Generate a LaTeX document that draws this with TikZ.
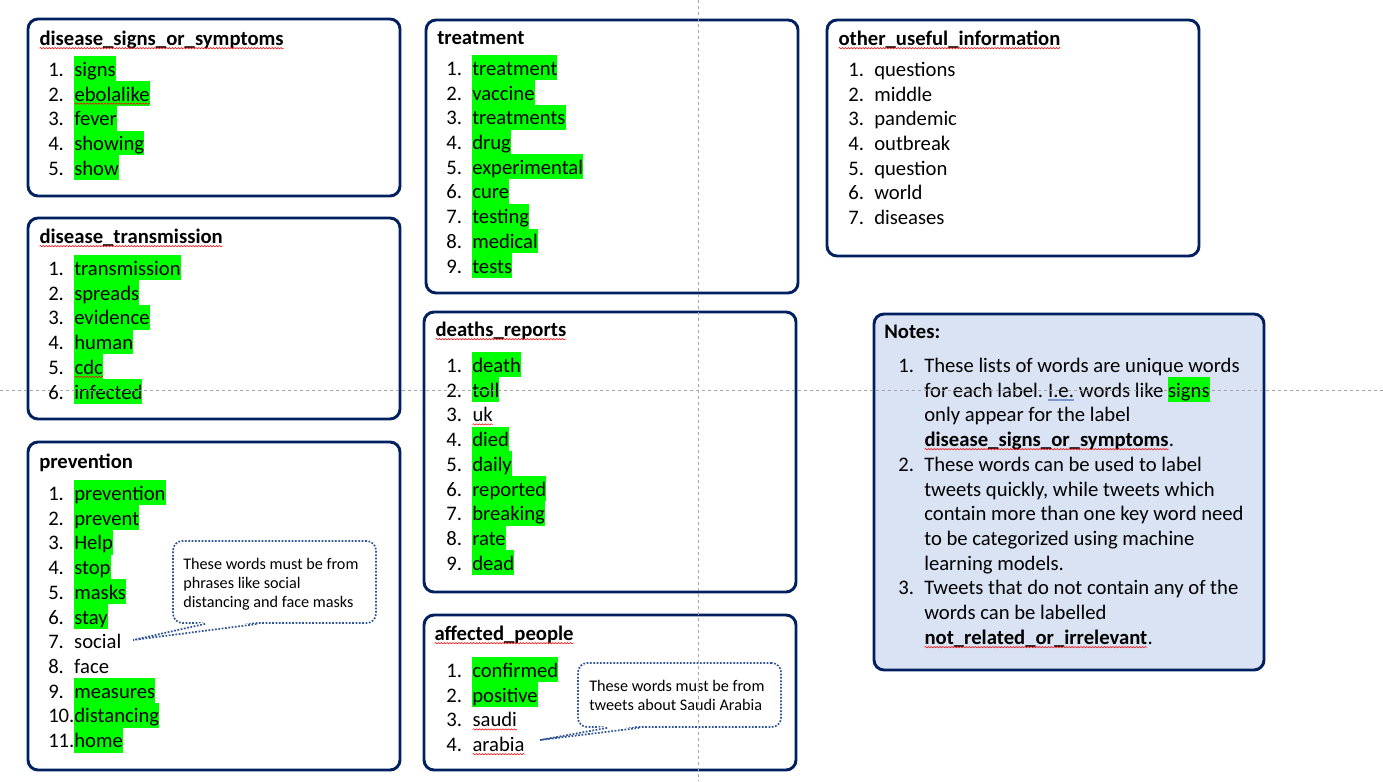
\documentclass[tikz,border=0pt]{standalone}
\usepackage{fontspec}
\setmainfont{Carlito}
\usetikzlibrary{positioning,calc,fit,decorations.pathmorphing}
\definecolor{navy}{RGB}{0,32,96}
\definecolor{hlgreen}{RGB}{0,255,0}
\definecolor{notefill}{RGB}{218,227,243}
\definecolor{calldot}{RGB}{47,85,151}
\definecolor{guidegray}{RGB}{165,165,165}
\definecolor{dulblue}{RGB}{120,150,210}
\frenchspacing
\newcommand{\rowstrut}{\rule[-0.2\baselineskip]{0pt}{\baselineskip}}
\newcommand{\hl}[1]{{\setlength{\fboxsep}{0pt}\colorbox{hlgreen}{\rowstrut#1}}}
\newcommand{\itm}[2]{\makebox[19.5pt][l]{#1}\rowstrut#2}
\newcommand{\sqg}[1]{\tikz[baseline=(w.base)]{\node[inner sep=0pt,outer sep=0pt] (w) {#1};
  \draw[squig] ([yshift=-2pt]w.base west) -- ([yshift=-2pt]w.base east);}}
\newcommand{\dul}[1]{\tikz[baseline=(w.base)]{\node[inner sep=0pt,outer sep=0pt] (w) {#1};
  \draw[dulblue, line width=0.4pt] ([yshift=-1.6pt]w.base west) -- ([yshift=-1.6pt]w.base east)
  ([yshift=-2.7pt]w.base west) -- ([yshift=-2.7pt]w.base east);}}

\begin{document}
\begin{tikzpicture}[
  x=0.75pt, y=-0.75pt,
  frame/.style={draw=navy, line width=2.2pt, rounded corners=7.5pt, inner sep=0pt},
  notes/.style={frame, fill=notefill},
  ttl/.style={font=\fontsize{15.5}{18.56}\selectfont\bfseries, anchor=base west, inner sep=0pt},
  lst/.style={font=\fontsize{15.5}{18.56}\selectfont, align=left, anchor=north west, inner sep=0pt},
  callbox/.style={draw=calldot, line width=1.3pt, dash pattern=on 1.3pt off 1.2pt, rounded corners=7pt, inner sep=0pt, fill=white},
  calldash/.style={draw=calldot, line width=1.3pt, dash pattern=on 1.3pt off 1.2pt},
  calltext/.style={font=\fontsize{12.15}{14.4}\selectfont, align=left, anchor=north west, inner sep=0pt},
  squig/.style={red, line width=0.4pt, decorate, decoration={snake, amplitude=0.5pt, segment length=2.2pt}},
  guide/.style={draw=guidegray, line width=0.75pt, dash pattern=on 2.5pt off 2pt}
]
\fill[white] (0,0) rectangle (1383,781);
\useasboundingbox (0,0) rectangle (1383,781);

% ================= LEFT COLUMN =================
\node[frame, fit={(28,19) (400,196)}] (fsym) {};
\node[ttl] (tsym) at (39,45.5) {\sqg{disease\_signs\_or\_symptoms}};
\node[lst] (lsym) at (48,56.2) {\itm{1.}{\hl{signs}}\\ \itm{2.}{\hl{\sqg{ebolalike}}}\\ \itm{3.}{\hl{fever}}\\
  \itm{4.}{\hl{showing}}\\ \itm{5.}{\hl{show}}};

\node[frame, fit={(28,218) (400,419)}] (ftra) {};
\node[ttl] (ttra) at (39,243.5) {\sqg{disease\_transmission}};
\node[lst] (ltra) at (48,255.2) {\itm{1.}{\hl{transmission}}\\ \itm{2.}{\hl{spreads}}\\ \itm{3.}{\hl{evidence}}\\
  \itm{4.}{\hl{human}}\\ \itm{5.}{\hl{\sqg{cdc}}}\\ \itm{6.}{\hl{infected}}};

\node[frame, fit={(28,442) (400,770)}] (fpre) {};
\node[ttl] (tpre) at (39,468.5) {prevention};
\node[lst] (lpre) at (48,480.2) {\itm{1.}{\hl{prevention}}\\ \itm{2.}{\hl{prevent}}\\ \itm{3.}{\hl{Help}}\\
  \itm{4.}{\hl{stop}}\\ \itm{5.}{\hl{masks}}\\ \itm{6.}{\hl{stay}}\\ \itm{7.}{social}\\ \itm{8.}{face}\\
  \itm{9.}{\hl{measures}}\\ \itm{10.}{\hl{distancing}}\\ \itm{11.}{\hl{home}}};

% ================= MIDDLE COLUMN =================
\node[frame, fit={(426,20) (798,293)}] (ftre) {};
\node[ttl] (ttre) at (437,44.5) {treatment};
\node[lst] (ltre) at (446,55.2) {\itm{1.}{\hl{treatment}}\\ \itm{2.}{\hl{vaccine}}\\ \itm{3.}{\hl{treatments}}\\
  \itm{4.}{\hl{drug}}\\ \itm{5.}{\hl{experimental}}\\ \itm{6.}{\hl{cure}}\\ \itm{7.}{\hl{testing}}\\
  \itm{8.}{\hl{medical}}\\ \itm{9.}{\hl{tests}}};

\node[frame, fit={(424,312) (796,592)}] (fdea) {};
\node[ttl] (tdea) at (435,336.5) {\sqg{deaths\_reports}};
\node[lst] (ldea) at (446,352.2) {\itm{1.}{\hl{death}}\\ \itm{2.}{\hl{toll}}\\ \itm{3.}{\sqg{uk}}\\
  \itm{4.}{\hl{died}}\\ \itm{5.}{\hl{daily}}\\ \itm{6.}{\hl{reported}}\\ \itm{7.}{\hl{breaking}}\\
  \itm{8.}{\hl{rate}}\\ \itm{9.}{\hl{dead}}};

\node[frame, fit={(424,615) (796,770)}] (faff) {};
\node[ttl] (taff) at (434,640.5) {\sqg{affected\_people}};
\node[lst] (laff) at (446,657.2) {\itm{1.}{\hl{confirmed}}\\ \itm{2.}{\hl{positive}}\\ \itm{3.}{\sqg{saudi}}\\
  \itm{4.}{\sqg{arabia}}};

% ================= RIGHT COLUMN =================
\node[frame, fit={(827,20) (1199,256)}] (foth) {};
\node[ttl] (toth) at (838,45.5) {\sqg{other\_useful\_information}};
\node[lst] (loth) at (848,56.2) {\itm{1.}{questions}\\ \itm{2.}{middle}\\ \itm{3.}{pandemic}\\
  \itm{4.}{outbreak}\\ \itm{5.}{question}\\ \itm{6.}{world}\\ \itm{7.}{diseases}};

\node[notes, fit={(874,314) (1264,670)}] (fnot) {};
\node[ttl] (tnot) at (884,338.5) {Notes:};
\node[lst] (lnot) at (898,352.2) {\itm{1.}{These lists of words are unique words}\\
  \itm{}{for each label. \dul{I.e.} words like \hl{signs}}\\
  \itm{}{only appear for the label}\\
  \itm{}{\textbf{\sqg{disease\_signs\_or\_symptoms}}.}\\
  \itm{2.}{These words can be used to label}\\
  \itm{}{tweets quickly, while tweets which}\\
  \itm{}{contain more than one key word need}\\
  \itm{}{to be categorized using machine}\\
  \itm{}{learning models.}\\
  \itm{3.}{Tweets that do not contain any of the}\\
  \itm{}{words can be labelled}\\
  \itm{}{\textbf{\sqg{not\_related\_or\_irrelevant}}.}};

% ================= CALLOUTS =================
\node[callbox, fit={(173,541) (376,623)}] (cpre) {};
\node[calltext] (xpre) at (183,553.5) {\rowstrut These words must be from\\ \rowstrut phrases like social\\
  \rowstrut distancing and face masks};
\coordinate (kpre) at (133,640);
\fill[white] ($(cpre.south west)+(33,-2)$) -- (kpre) -- ($(cpre.south west)+(86,-2)$) -- cycle;
\draw[calldash] ($(cpre.south west)+(33,0)$) -- (kpre) -- ($(cpre.south west)+(86,0)$);

\node[callbox, fit={(578,663) (781,727)}] (caff) {};
\node[calltext] (xaff) at (589,676) {\rowstrut These words must be from\\ \rowstrut tweets about Saudi Arabia};
\coordinate (kaff) at (540,740);
\fill[white] ($(caff.south west)+(30,-2)$) -- (kaff) -- ($(caff.south west)+(62,-2)$) -- cycle;
\draw[calldash] ($(caff.south west)+(30,0)$) -- (kaff) -- ($(caff.south west)+(62,0)$);

% ================= GUIDES =================
\coordinate (gvt) at (698,0); \coordinate (gvb) at (698,781);
\coordinate (ghl) at (0,390); \coordinate (ghr) at (1383,390);
\draw[guide] (gvt) -- (gvb);
\draw[guide] (ghl) -- (ghr);
\end{tikzpicture}
\end{document}
